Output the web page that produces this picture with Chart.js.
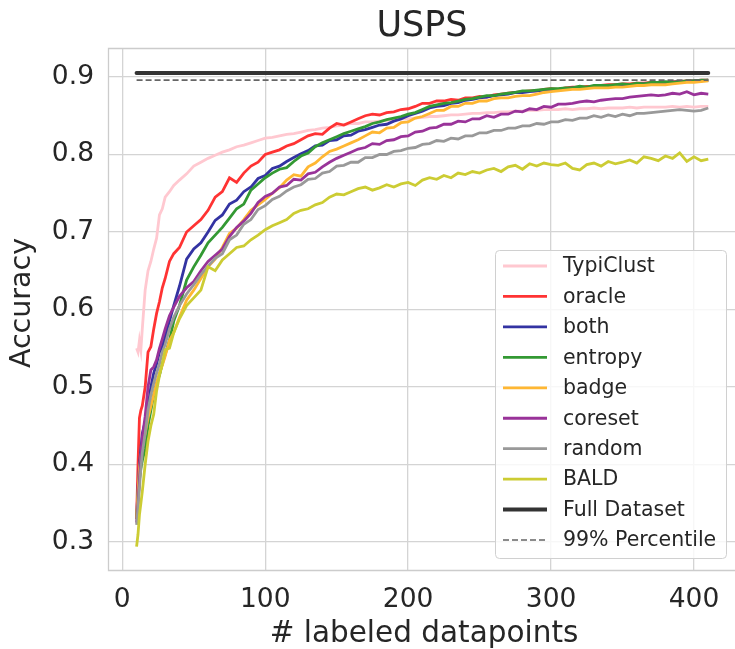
<!DOCTYPE html>
<html><head><meta charset="utf-8">
<script src="https://cdn.jsdelivr.net/npm/chart.js@4.4.1/dist/chart.umd.min.js"></script>
<style>html,body{margin:0;padding:0;background:#fff;overflow:hidden}</style>
</head><body>
<canvas id="c" width="735" height="649"></canvas>
<script>
const TITLE = "USPS";
const X_LABEL = "# labeled datapoints";
const Y_LABEL = "Accuracy";
const X_TICKS = [0, 100, 200, 300, 400];
const Y_TICKS = [0.3, 0.4, 0.5, 0.6, 0.7, 0.8, 0.9];

const X = [10,11,12,13,14,16,18,20,22,24,
  26,28,30,33,36,40,45,50,55,60,
  65,70,75,80,85,90,95,100,105,110,
  115,120,125,130,135,140,145,150,155,160,
  165,170,175,180,185,190,195,200,205,210,
  215,220,225,230,235,240,245,250,255,260,
  265,270,275,280,285,290,295,300,305,310,
  315,320,325,330,335,340,345,350,355,360,
  365,370,375,380,385,390,395,400,405,410];

const TYPICLUST = [0.550,0.545,0.560,0.548,0.575,0.625,0.650,0.662,0.678,0.692,
  0.722,0.730,0.745,0.752,0.760,0.767,0.775,0.785,0.790,0.795,
  0.799,0.803,0.806,0.810,0.812,0.815,0.818,0.821,0.822,0.824,
  0.826,0.827,0.829,0.831,0.832,0.834,0.835,0.837,0.838,0.840,
  0.840,0.842,0.842,0.843,0.844,0.845,0.846,0.846,0.847,0.848,
  0.849,0.849,0.850,0.851,0.851,0.852,0.853,0.853,0.854,0.854,
  0.855,0.855,0.856,0.856,0.857,0.857,0.858,0.858,0.858,0.859,
  0.858,0.859,0.859,0.860,0.859,0.860,0.860,0.860,0.861,0.860,
  0.861,0.861,0.861,0.861,0.862,0.861,0.862,0.861,0.862,0.862];

const ORACLE = [0.330,0.400,0.460,0.470,0.476,0.500,0.545,0.552,0.575,0.595,
  0.610,0.628,0.640,0.662,0.672,0.680,0.700,0.708,0.716,0.728,
  0.745,0.752,0.770,0.764,0.776,0.785,0.790,0.800,0.803,0.806,
  0.811,0.814,0.819,0.824,0.827,0.826,0.834,0.840,0.838,0.842,
  0.846,0.850,0.852,0.851,0.854,0.855,0.858,0.859,0.862,0.866,
  0.866,0.869,0.869,0.871,0.870,0.873,0.873,0.875,0.874,0.877,
  0.878,0.879,0.880,0.881,0.882,0.882,0.884,0.885,0.884,0.886,
  0.887,0.887,0.888,0.888,0.889,0.890,0.890,0.891,0.891,0.892,
  0.892,0.893,0.892,0.893,0.894,0.894,0.895,0.895,0.896,0.896];

const BOTH = [0.330,0.370,0.400,0.420,0.440,0.455,0.475,0.500,0.518,0.530,
  0.545,0.552,0.565,0.585,0.605,0.630,0.665,0.678,0.686,0.700,
  0.715,0.722,0.736,0.741,0.752,0.758,0.769,0.773,0.782,0.785,
  0.791,0.796,0.801,0.805,0.811,0.812,0.818,0.819,0.824,0.825,
  0.830,0.832,0.835,0.838,0.839,0.843,0.846,0.850,0.853,0.856,
  0.860,0.862,0.863,0.866,0.867,0.870,0.871,0.873,0.874,0.876,
  0.877,0.878,0.880,0.880,0.881,0.882,0.883,0.884,0.883,0.885,
  0.886,0.887,0.886,0.888,0.888,0.889,0.889,0.890,0.889,0.891,
  0.891,0.892,0.893,0.892,0.893,0.894,0.894,0.895,0.895,0.896];

const ENTROPY = [0.330,0.355,0.380,0.395,0.405,0.420,0.450,0.470,0.490,0.505,
  0.515,0.530,0.542,0.560,0.585,0.605,0.638,0.655,0.670,0.686,
  0.696,0.706,0.718,0.730,0.736,0.754,0.762,0.770,0.776,0.781,
  0.783,0.791,0.798,0.802,0.810,0.815,0.819,0.823,0.827,0.830,
  0.833,0.836,0.840,0.842,0.845,0.847,0.849,0.852,0.854,0.858,
  0.862,0.864,0.866,0.867,0.869,0.871,0.872,0.874,0.876,0.876,
  0.878,0.879,0.880,0.882,0.882,0.883,0.884,0.885,0.885,0.886,
  0.886,0.888,0.887,0.889,0.889,0.889,0.890,0.891,0.890,0.892,
  0.891,0.893,0.893,0.894,0.893,0.894,0.895,0.895,0.896,0.896];

const BADGE = [0.330,0.365,0.395,0.410,0.425,0.440,0.460,0.475,0.490,0.505,
  0.518,0.528,0.540,0.560,0.570,0.590,0.612,0.625,0.640,0.655,
  0.665,0.680,0.698,0.705,0.716,0.728,0.735,0.742,0.750,0.757,
  0.767,0.774,0.772,0.784,0.789,0.797,0.804,0.807,0.811,0.815,
  0.819,0.824,0.829,0.828,0.834,0.835,0.841,0.842,0.847,0.849,
  0.853,0.857,0.857,0.862,0.862,0.866,0.866,0.869,0.869,0.872,
  0.873,0.873,0.875,0.876,0.876,0.878,0.880,0.881,0.882,0.883,
  0.884,0.884,0.885,0.886,0.886,0.886,0.887,0.887,0.888,0.889,
  0.889,0.890,0.890,0.890,0.891,0.892,0.893,0.893,0.894,0.895];

const CORESET = [0.325,0.350,0.380,0.410,0.435,0.462,0.500,0.522,0.526,0.535,
  0.550,0.562,0.575,0.592,0.603,0.617,0.628,0.636,0.650,0.662,
  0.670,0.678,0.694,0.706,0.714,0.724,0.738,0.746,0.750,0.758,
  0.760,0.768,0.767,0.775,0.777,0.784,0.790,0.795,0.799,0.803,
  0.807,0.809,0.814,0.813,0.818,0.819,0.823,0.824,0.829,0.830,
  0.834,0.835,0.839,0.839,0.843,0.842,0.846,0.846,0.850,0.848,
  0.852,0.852,0.856,0.855,0.859,0.858,0.862,0.861,0.865,0.865,
  0.866,0.868,0.869,0.868,0.870,0.871,0.872,0.872,0.874,0.875,
  0.876,0.877,0.876,0.877,0.879,0.878,0.881,0.877,0.879,0.878];

const RANDOM = [0.322,0.345,0.370,0.395,0.415,0.440,0.470,0.490,0.505,0.518,
  0.530,0.545,0.555,0.575,0.590,0.605,0.620,0.632,0.645,0.656,
  0.666,0.672,0.690,0.696,0.710,0.716,0.729,0.734,0.742,0.746,
  0.753,0.758,0.761,0.768,0.769,0.776,0.778,0.785,0.786,0.790,
  0.790,0.796,0.796,0.800,0.800,0.804,0.805,0.808,0.809,0.813,
  0.814,0.818,0.817,0.821,0.820,0.824,0.824,0.828,0.828,0.831,
  0.831,0.834,0.834,0.837,0.837,0.840,0.839,0.842,0.842,0.845,
  0.844,0.847,0.847,0.850,0.848,0.851,0.849,0.852,0.850,0.853,
  0.853,0.854,0.855,0.856,0.857,0.858,0.857,0.856,0.857,0.860];

const BALD = [0.294,0.310,0.335,0.350,0.365,0.400,0.430,0.450,0.465,0.495,
  0.515,0.530,0.548,0.550,0.570,0.588,0.605,0.615,0.625,0.655,
  0.650,0.664,0.672,0.680,0.682,0.690,0.696,0.703,0.708,0.712,
  0.716,0.724,0.728,0.730,0.735,0.738,0.745,0.749,0.748,0.752,
  0.756,0.758,0.754,0.757,0.761,0.758,0.762,0.764,0.760,0.767,
  0.770,0.768,0.773,0.770,0.776,0.774,0.778,0.776,0.780,0.782,
  0.778,0.784,0.786,0.781,0.788,0.785,0.789,0.787,0.786,0.789,
  0.782,0.780,0.787,0.789,0.785,0.791,0.788,0.790,0.793,0.789,
  0.797,0.795,0.792,0.798,0.795,0.802,0.791,0.797,0.792,0.794];

const FULL_X = [10, 410];
const FULL_DATASET = [0.905, 0.905];
const PERCENTILE_99 = [0.896, 0.896];

const SERIES = [
  ["TypiClust", TYPICLUST, "#ffc8d0"],
  ["oracle", ORACLE, "#ff3333"],
  ["both", BOTH, "#3333a2"],
  ["entropy", ENTROPY, "#339933"],
  ["badge", BADGE, "#ffb733"],
  ["coreset", CORESET, "#993399"],
  ["random", RANDOM, "#999999"],
  ["BALD", BALD, "#cccc33"]
];

const FONT = "'DejaVu Sans', 'Liberation Sans', sans-serif";
const TEXT_COLOR = "#262626";
const GRID_COLOR = "#d4d4d4";

const datasets = SERIES.map(([label, ys, color], i) => ({
  label,
  data: X.map((x, k) => ({x, y: ys[k]})),
  borderColor: color,
  backgroundColor: color,
  borderWidth: 2.8,
  pointRadius: 0,
  tension: 0,
  fill: false,
  order: 20 - i
}));
datasets.push({
  label: "Full Dataset",
  data: FULL_X.map((x, k) => ({x, y: FULL_DATASET[k]})),
  borderColor: "#333333", backgroundColor: "#333333",
  borderWidth: 4, pointRadius: 0, fill: false, order: 2, borderCapStyle: 'round'
});
datasets.push({
  label: "99% Percentile",
  data: FULL_X.map((x, k) => ({x, y: PERCENTILE_99[k]})),
  borderColor: "#666666", backgroundColor: "#666666",
  borderWidth: 1.6, borderDash: [6, 3], pointRadius: 0, fill: false, order: 1
});

const decor = {
  id: 'decor',
  afterDraw(chart) {
    const {ctx, chartArea: a} = chart;
    ctx.save();
    ctx.strokeStyle = "#cccccc";
    ctx.lineWidth = 1.3;
    ctx.beginPath();
    ctx.moveTo(a.right, a.top + 0.5); ctx.lineTo(a.left + 0.5, a.top + 0.5);
    ctx.lineTo(a.left + 0.5, a.bottom - 0.5); ctx.lineTo(a.right, a.bottom - 0.5);
    ctx.stroke();
    ctx.fillStyle = TEXT_COLOR;
    ctx.textAlign = 'center';
    ctx.textBaseline = 'middle';
    ctx.font = "35px " + FONT;
    ctx.fillText(TITLE, 422, 27);
    ctx.font = "29.5px " + FONT;
    ctx.fillText(X_LABEL, 424, 634);
    ctx.save();
    ctx.translate(23, 303);
    ctx.rotate(-Math.PI / 2);
    ctx.font = "28.5px " + FONT;
    ctx.fillText(Y_LABEL, 0, 0);
    ctx.restore();
    const bx = 495, by = 250, bw = 231, bh = 308;
    ctx.beginPath();
    if (ctx.roundRect) ctx.roundRect(bx + 0.5, by + 0.5, bw, bh, 4); else ctx.rect(bx + 0.5, by + 0.5, bw, bh);
    ctx.fillStyle = "rgba(255,255,255,0.8)";
    ctx.fill();
    ctx.strokeStyle = "#d0d0d0";
    ctx.lineWidth = 1;
    ctx.stroke();
    ctx.font = "20.5px " + FONT;
    ctx.textAlign = 'left';
    chart.data.datasets.forEach((ds, i) => {
      const y = 266 + i * 30.45;
      ctx.beginPath();
      ctx.strokeStyle = ds.borderColor;
      ctx.lineWidth = ds.borderWidth;
      ctx.setLineDash(ds.borderDash || []);
      ctx.lineCap = 'butt';
      ctx.moveTo(503, y); ctx.lineTo(547, y);
      ctx.stroke();
      ctx.setLineDash([]);
      ctx.fillStyle = TEXT_COLOR;
      ctx.fillText(ds.label, 563, y + 1);
    });
    ctx.restore();
  }
};

new Chart(document.getElementById('c'), {
  type: 'line',
  data: {datasets},
  options: {
    responsive: false,
    animation: false,
    devicePixelRatio: 1,
    layout: {padding: {top: 48, right: 0, left: 0, bottom: 0}},
    plugins: {legend: {display: false}, title: {display: false}, tooltip: {enabled: false}},
    scales: {
      x: {
        type: 'linear', min: -10, max: 428.7,
        afterBuildTicks: s => { s.ticks = X_TICKS.map(v => ({value: v})); },
        afterFit: s => { s.height = 78; },
        grid: {color: GRID_COLOR, lineWidth: 1.3, drawTicks: false},
        border: {display: false},
        ticks: {autoSkip: false, maxRotation: 0, padding: 13, color: TEXT_COLOR,
          font: {family: FONT, size: 26.5}, callback: v => String(v)}
      },
      y: {
        type: 'linear', min: 0.2626, max: 0.9374,
        afterBuildTicks: s => { s.ticks = Y_TICKS.map(v => ({value: v})); },
        afterFit: s => { s.width = 108; },
        grid: {color: GRID_COLOR, lineWidth: 1.3, drawTicks: false},
        border: {display: false},
        ticks: {autoSkip: false, padding: 14, color: TEXT_COLOR,
          font: {family: FONT, size: 26.5}, callback: v => v.toFixed(1)}
      }
    }
  },
  plugins: [decor]
});
</script>
</body></html>
